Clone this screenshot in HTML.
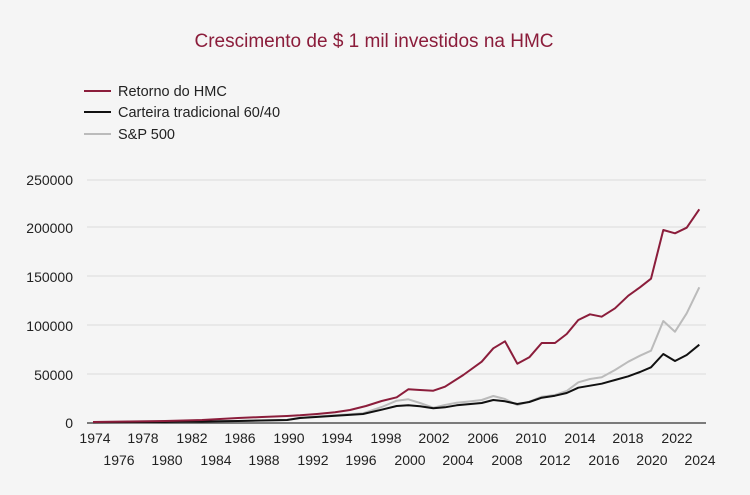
<!DOCTYPE html>
<html><head><meta charset="utf-8"><style>
body{margin:0;background:#f5f5f5;}
svg{display:block;font-family:"Liberation Sans",Arial,sans-serif;}
</style></head><body>
<svg width="750" height="495" viewBox="0 0 750 495">
<rect width="750" height="495" fill="#f5f5f5"/>
<text x="374" y="47" text-anchor="middle" font-size="19" fill="#8b1d3b">Crescimento de $ 1 mil investidos na HMC</text>
<line x1="84" y1="91" x2="111" y2="91" stroke="#8b1d3b" stroke-width="2"/>
<text x="118" y="96" font-size="14.5" fill="#222">Retorno do HMC</text>
<line x1="84" y1="112" x2="111" y2="112" stroke="#111" stroke-width="2"/>
<text x="118" y="117" font-size="14.5" fill="#222">Carteira tradicional 60/40</text>
<line x1="84" y1="134" x2="111" y2="134" stroke="#bbb" stroke-width="2"/>
<text x="118" y="139" font-size="14.5" fill="#222">S&amp;P 500</text>
<g stroke="#dcdcdc" stroke-width="1">
<line x1="87" y1="180" x2="706" y2="180"/>
<line x1="87" y1="227" x2="706" y2="227"/>
<line x1="87" y1="276" x2="706" y2="276"/>
<line x1="87" y1="325" x2="706" y2="325"/>
<line x1="87" y1="374" x2="706" y2="374"/>
</g>
<line x1="87" y1="423" x2="706" y2="423" stroke="#333" stroke-width="1.2"/>
<g font-size="14" fill="#222" text-anchor="end">
<text x="73" y="185">250000</text>
<text x="73" y="233">200000</text>
<text x="73" y="282">150000</text>
<text x="73" y="331">100000</text>
<text x="73" y="380">50000</text>
<text x="73" y="428">0</text>
</g>
<g font-size="14" fill="#222" text-anchor="middle">
<text x="95" y="443">1974</text><text x="143" y="443">1978</text><text x="192" y="443">1982</text><text x="240" y="443">1986</text><text x="289" y="443">1990</text><text x="337" y="443">1994</text><text x="386" y="443">1998</text><text x="434" y="443">2002</text><text x="483" y="443">2006</text><text x="531" y="443">2010</text><text x="580" y="443">2014</text><text x="628" y="443">2018</text><text x="677" y="443">2022</text>
<text x="119" y="465">1976</text><text x="167" y="465">1980</text><text x="216" y="465">1984</text><text x="264" y="465">1988</text><text x="313" y="465">1992</text><text x="361" y="465">1996</text><text x="410" y="465">2000</text><text x="458" y="465">2004</text><text x="507" y="465">2008</text><text x="555" y="465">2012</text><text x="604" y="465">2016</text><text x="652" y="465">2020</text><text x="700" y="465">2024</text>
</g>
<g fill="none" stroke-width="2" stroke-linejoin="round">
<polyline stroke="#bbb" points="93,422.5 165,422 238,421 287,420 300,417.7 363,413.3 381.7,407 396.7,400.7 408.3,399.3 420,403 433.3,407.7 445,405 456.7,402.7 469,401.5 481.7,400 493.3,396 505,399 517.3,405 529.3,401.7 541.7,396.7 555,395 566.7,391 578.3,382.3 590,379 601.7,377.3 615,370 628.3,361.7 640,355.7 651,350.7 663.3,321 675,331.7 686.7,313.3 699.3,287.3"/>
<polyline stroke="#111" points="93,422.5 165,422 238,421 287,420 300,418 363,414 381.7,409.7 396.7,406 408.3,405.3 420,406.3 433.3,408.3 445,407.3 456.7,405.3 481.7,403 493.3,400 505,401.3 517.3,404 529.3,402 541.7,397.7 555,395.7 566.7,393 578.3,387.7 590,385.7 601.7,383.7 615,380 628.3,376.3 640,372 651,367.3 663.3,354 675,361 686.7,355 699.3,344.7"/>
<polyline stroke="#8b1d3b" points="93,422 129,421.5 165,421 202,420 238,418 262,417 287,416 300,415.3 317,414 335,412.3 350,410 366,406 381.7,401 396.7,397.3 408.3,389.3 420,390 433.3,390.7 445,386.7 463.3,375 481.7,361.7 493.3,348.3 505,341.3 517.3,363.7 529.3,357.3 541.7,343 555,343 566.7,334 578.3,320 590,314.3 601.7,316.7 615,308.3 628.3,295.7 640,287.3 651,278.7 663.3,230 675,233.3 686.7,227.7 699.3,209.3"/>
</g>
</svg>
</body></html>
